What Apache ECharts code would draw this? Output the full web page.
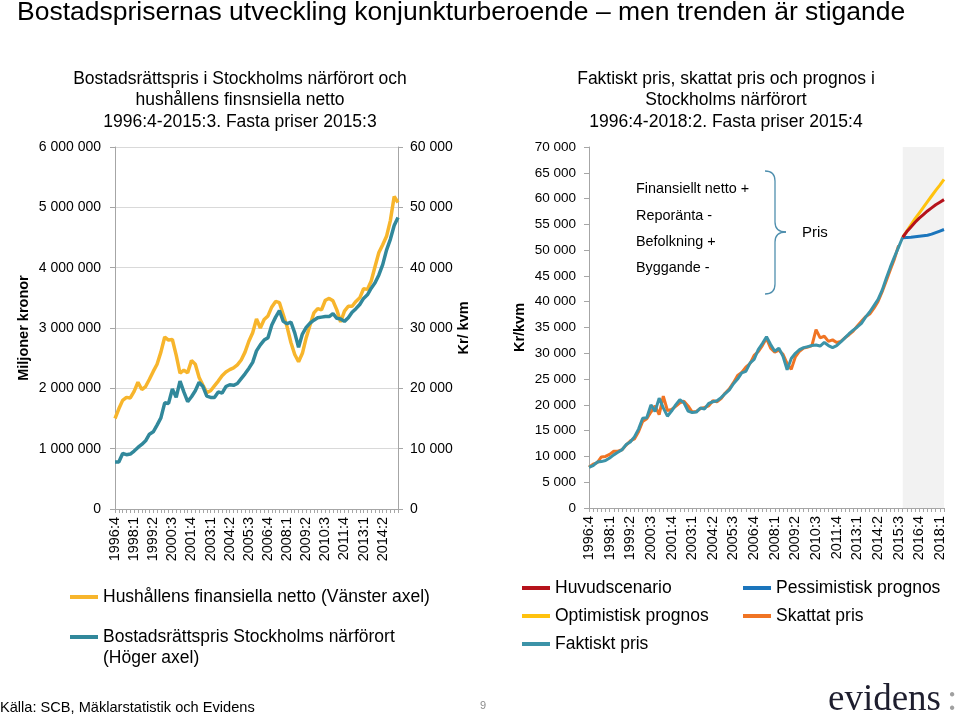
<!DOCTYPE html>
<html>
<head>
<meta charset="utf-8">
<script src="https://cdn.jsdelivr.net/npm/echarts@6.0.0/dist/echarts.min.js"></script>
<style>
html,body{margin:0;padding:0;background:#fff;}
#chart{width:960px;height:717px;}
</style>
</head>
<body>
<div id="chart"></div>
<script>
// ---------- categories ----------
function quarters(y0, q0, n) {
  const a = []; let y = y0, q = q0;
  for (let i = 0; i < n; i++) { a.push(y + ':' + q); q++; if (q > 4) { q = 1; y++; } }
  return a;
}
const leftCategories = quarters(1996, 4, 75);   // 1996:4 .. 2015:2
const rightCategories = quarters(1996, 4, 87);  // 1996:4 .. 2018:2

// ---------- left chart data ----------
// Hushållens finansiella netto (kronor, left axis)
const finansiellaNetto = [
  1500000,1660000,1800000,1850000,1840000,1950000,2100000,1980000,2030000,2150000,
  2280000,2400000,2600000,2850000,2800000,2810000,2550000,2250000,2300000,2260000,
  2460000,2400000,2180000,2050000,1930000,1960000,2040000,2120000,2210000,2270000,
  2310000,2340000,2390000,2470000,2600000,2780000,2920000,3150000,3000000,3140000,
  3200000,3350000,3440000,3420000,3220000,3020000,2760000,2560000,2440000,2580000,
  2840000,3050000,3250000,3320000,3300000,3460000,3490000,3450000,3300000,3100000,
  3280000,3360000,3360000,3440000,3500000,3650000,3640000,3780000,4020000,4250000,
  4380000,4520000,4780000,5180000,5080000
];
// Bostadsrättspris Stockholms närförort (kr/kvm, right axis)
const bostadsrattspris = [
  7800,7800,9200,9000,9100,9600,10200,10700,11300,12400,
  12800,13900,15100,17600,17500,19900,18500,21200,19400,17800,
  18600,19600,21000,20300,18700,18500,18500,19400,19200,20300,
  20600,20500,20800,21600,22400,23300,24300,26200,27200,28000,
  28400,30500,31800,32900,31100,30700,31000,29200,26800,29000,
  30100,30800,31300,31700,31800,31900,31900,32400,31600,31500,
  31100,31700,32600,33200,33900,34900,35500,36600,37500,38800,
  40500,42900,44700,47000,48300
];

// ---------- right chart data ----------
const faktisktPris = [
  7900,8200,8900,9000,9200,9700,10300,10800,11300,12300,
  12800,13800,15300,17400,17500,20000,18700,21300,19400,17800,
  18800,20000,21000,20400,18800,18500,18600,19400,19200,20300,
  20600,20800,21400,22200,22900,24100,25000,26200,26500,28100,
  28800,30700,31900,33200,31700,30400,31000,29400,26800,29000,
  30000,30700,31100,31300,31500,31600,31400,32100,31500,31100,
  31500,32200,33000,33800,34500,35100,35800,37000,38000,39200,
  40400,42200,44500,46700,48700,50600,52500
];
const skattatPris = [
  7900,8500,8800,9900,10000,10400,11000,11000,11300,12200,
  13000,13400,14800,16800,17300,18600,19800,18100,21700,18900,
  19100,19700,20400,20700,19800,18600,18700,19300,19500,19800,
  20800,20600,21200,22300,23100,24300,25700,26300,27300,28000,
  29600,30300,31500,32900,31000,30200,30600,29800,28000,26900,
  29300,30400,31000,31200,31500,34600,33000,33300,32300,32600,
  32100,32300,33000,33600,34300,35300,36200,37100,37600,38700,
  40000,41900,44000,46200,48300,50900
];
const prognosStart = '2015:4';
const huvudscenario = [52500,53600,54500,55400,56200,56900,57600,58200,58800,59300,59800];
const optimistisk   = [52500,53700,54900,56100,57200,58300,59400,60500,61600,62600,63700];
const pessimistisk  = [52400,52450,52500,52600,52700,52800,52900,53100,53400,53700,54000];

// ---------- helpers ----------
const FONT = '"Liberation Sans", Arial, sans-serif';
const SERIF = '"Liberation Serif", "DejaVu Serif", serif';
const fmt = v => String(v).replace(/\B(?=(\d{3})+(?!\d))/g, ' ');
const startIdx = rightCategories.indexOf(prognosStart);
const forecast = arr => arr.map((v, i) => [rightCategories[startIdx + i], v]);

const axisGray = '#A6A6A6';
const braceColor = '#4F8FAE';
const braceStyle = { stroke: braceColor, fill: null, lineWidth: 1.3 };
const legendText = { fontSize: 17.5, color: '#000', fontFamily: FONT };

const chart = echarts.init(document.getElementById('chart'));
const option = {
  backgroundColor: '#ffffff',
  animation: false,
  textStyle: { fontFamily: FONT },
  grid: [
    { left: 115, top: 147, width: 283, height: 362 },
    { left: 589, top: 147, width: 355, height: 361 }
  ],
  xAxis: [
    {
      gridIndex: 0, type: 'category', data: leftCategories, boundaryGap: false,
      axisLine: { lineStyle: { color: axisGray } },
      axisTick: { interval: 0, length: 4, lineStyle: { color: axisGray } },
      axisLabel: { interval: 4, rotate: 90, margin: 8, fontSize: 14.5, color: '#000', fontFamily: FONT },
      splitLine: { show: false }
    },
    {
      gridIndex: 1, type: 'category', data: rightCategories, boundaryGap: false,
      axisLine: { lineStyle: { color: axisGray } },
      axisTick: { interval: 0, length: 4, lineStyle: { color: axisGray } },
      axisLabel: { interval: 4, rotate: 90, margin: 8, fontSize: 14.5, color: '#000', fontFamily: FONT },
      splitLine: { show: false }
    }
  ],
  yAxis: [
    {
      gridIndex: 0, type: 'value', min: 0, max: 6000000, interval: 1000000, position: 'left',
      name: 'Miljoner kronor', nameLocation: 'middle', nameGap: 84, nameRotate: 90,
      nameTextStyle: { fontSize: 14.5, fontWeight: 'bold', color: '#000', fontFamily: FONT },
      axisLine: { show: true, lineStyle: { color: axisGray } },
      axisTick: { show: true, length: 5, lineStyle: { color: axisGray } },
      axisLabel: { formatter: fmt, fontSize: 14, color: '#000', margin: 14, fontFamily: FONT },
      splitLine: { show: true, lineStyle: { color: '#D9D9D9' } }
    },
    {
      gridIndex: 0, type: 'value', min: 0, max: 60000, interval: 10000, position: 'right',
      name: 'Kr/ kvm', nameLocation: 'middle', nameGap: 58, nameRotate: 90,
      nameTextStyle: { fontSize: 14.5, fontWeight: 'bold', color: '#000', fontFamily: FONT },
      axisLine: { show: true, lineStyle: { color: axisGray } },
      axisTick: { show: true, length: 5, lineStyle: { color: axisGray } },
      axisLabel: { formatter: fmt, fontSize: 14, color: '#000', margin: 12, fontFamily: FONT },
      splitLine: { show: false }
    },
    {
      gridIndex: 1, type: 'value', min: 0, max: 70000, interval: 5000, position: 'left',
      name: 'Kr/kvm', nameLocation: 'middle', nameGap: 62, nameRotate: 90,
      nameTextStyle: { fontSize: 14.5, fontWeight: 'bold', color: '#000', fontFamily: FONT },
      axisLine: { show: true, lineStyle: { color: axisGray } },
      axisTick: { show: true, length: 5, lineStyle: { color: axisGray } },
      axisLabel: { formatter: fmt, fontSize: 13.5, color: '#000', margin: 13, fontFamily: FONT },
      splitLine: { show: false }
    }
  ],
  legend: [
    {
      left: 70, top: 588, padding: 0, orient: 'vertical', selectedMode: false,
      icon: 'rect', itemWidth: 28, itemHeight: 4, textStyle: legendText,
      data: ['Hushållens finansiella netto (Vänster axel)']
    },
    {
      left: 70, top: 628, padding: 0, orient: 'vertical', selectedMode: false,
      icon: 'rect', itemWidth: 28, itemHeight: 4, textStyle: legendText,
      data: ['Bostadsrättspris Stockholms närförort']
    },
    {
      left: 522, top: 579, padding: 0, orient: 'vertical', selectedMode: false, itemGap: 10,
      icon: 'rect', itemWidth: 28, itemHeight: 4, textStyle: legendText,
      data: ['Huvudscenario', 'Optimistisk prognos', 'Faktiskt pris']
    },
    {
      left: 743, top: 579, padding: 0, orient: 'vertical', selectedMode: false, itemGap: 10,
      icon: 'rect', itemWidth: 28, itemHeight: 4, textStyle: legendText,
      data: ['Pessimistisk prognos', 'Skattat pris']
    }
  ],
  series: [
    {
      name: 'Hushållens finansiella netto (Vänster axel)', type: 'line',
      xAxisIndex: 0, yAxisIndex: 0, data: finansiellaNetto,
      showSymbol: false, symbol: 'none', color: '#F7B52C', lineStyle: { width: 3.5, color: '#F7B52C' }
    },
    {
      name: 'Bostadsrättspris Stockholms närförort', type: 'line',
      xAxisIndex: 0, yAxisIndex: 1, data: bostadsrattspris,
      showSymbol: false, symbol: 'none', color: '#31889B', lineStyle: { width: 3.5, color: '#31889B' }
    },
    {
      name: 'Skattat pris', type: 'line',
      xAxisIndex: 1, yAxisIndex: 2, data: skattatPris,
      showSymbol: false, symbol: 'none', color: '#F07424', lineStyle: { width: 3, color: '#F07424' },
      markArea: {
        silent: true,
        itemStyle: { color: '#F2F2F2' },
        data: [[{ xAxis: prognosStart }, { xAxis: rightCategories[rightCategories.length - 1] }]]
      }
    },
    {
      name: 'Faktiskt pris', type: 'line',
      xAxisIndex: 1, yAxisIndex: 2, data: faktisktPris,
      showSymbol: false, symbol: 'none', color: '#3C93A8', lineStyle: { width: 3, color: '#3C93A8' }
    },
    {
      name: 'Pessimistisk prognos', type: 'line',
      xAxisIndex: 1, yAxisIndex: 2, data: forecast(pessimistisk),
      showSymbol: false, symbol: 'none', color: '#1B75BC', lineStyle: { width: 3, color: '#1B75BC' }
    },
    {
      name: 'Optimistisk prognos', type: 'line',
      xAxisIndex: 1, yAxisIndex: 2, data: forecast(optimistisk),
      showSymbol: false, symbol: 'none', color: '#FFC20E', lineStyle: { width: 3, color: '#FFC20E' }
    },
    {
      name: 'Huvudscenario', type: 'line',
      xAxisIndex: 1, yAxisIndex: 2, data: forecast(huvudscenario),
      showSymbol: false, symbol: 'none', color: '#B5121B', lineStyle: { width: 3, color: '#B5121B' }
    }
  ],
  graphic: {
    elements: [
      { type: 'text', x: 17, y: 13, silent: true,
        style: { text: 'Bostadsprisernas utveckling konjunkturberoende – men trenden är stigande',
          font: '26.5px ' + FONT, fill: '#000', align: 'left', verticalAlign: 'middle' } },
      { type: 'text', x: 240, y: 68, silent: true,
        style: { text: 'Bostadsrättspris i Stockholms närförort och\nhushållens finsnsiella netto\n1996:4-2015:3. Fasta priser 2015:3',
          font: '17.5px ' + FONT, lineHeight: 21.5, fill: '#000', align: 'center', verticalAlign: 'top' } },
      { type: 'text', x: 726, y: 68, silent: true,
        style: { text: 'Faktiskt pris, skattat pris och prognos i\nStockholms närförort\n1996:4-2018:2. Fasta priser 2015:4',
          font: '17.5px ' + FONT, lineHeight: 21.5, fill: '#000', align: 'center', verticalAlign: 'top' } },
      { type: 'text', x: 636, y: 189, silent: true,
        style: { text: 'Finansiellt netto +', font: '14.4px ' + FONT, fill: '#000', align: 'left', verticalAlign: 'middle' } },
      { type: 'text', x: 636, y: 216, silent: true,
        style: { text: 'Reporänta -', font: '14.4px ' + FONT, fill: '#000', align: 'left', verticalAlign: 'middle' } },
      { type: 'text', x: 636, y: 242, silent: true,
        style: { text: 'Befolkning +', font: '14.4px ' + FONT, fill: '#000', align: 'left', verticalAlign: 'middle' } },
      { type: 'text', x: 636, y: 268, silent: true,
        style: { text: 'Byggande -', font: '14.4px ' + FONT, fill: '#000', align: 'left', verticalAlign: 'middle' } },
      { type: 'bezierCurve', silent: true, shape: { x1: 765, y1: 171, cpx1: 775, cpy1: 171, x2: 775, y2: 181 }, style: braceStyle },
      { type: 'line', silent: true, shape: { x1: 775, y1: 181, x2: 775, y2: 222 }, style: braceStyle },
      { type: 'bezierCurve', silent: true, shape: { x1: 775, y1: 222, cpx1: 775, cpy1: 232, x2: 786, y2: 232 }, style: braceStyle },
      { type: 'bezierCurve', silent: true, shape: { x1: 786, y1: 232, cpx1: 775, cpy1: 232, x2: 775, y2: 242 }, style: braceStyle },
      { type: 'line', silent: true, shape: { x1: 775, y1: 242, x2: 775, y2: 284 }, style: braceStyle },
      { type: 'bezierCurve', silent: true, shape: { x1: 775, y1: 284, cpx1: 775, cpy1: 294, x2: 765, y2: 294 }, style: braceStyle },
      { type: 'text', x: 802, y: 233, silent: true,
        style: { text: 'Pris', font: '15px ' + FONT, fill: '#000', align: 'left', verticalAlign: 'middle' } },
      { type: 'text', x: 103, y: 658, silent: true,
        style: { text: '(Höger axel)', font: '17.5px ' + FONT, fill: '#000', align: 'left', verticalAlign: 'middle' } },
      { type: 'text', x: 0, y: 708, silent: true,
        style: { text: 'Källa: SCB, Mäklarstatistik och Evidens', font: '14.6px ' + FONT, fill: '#000', align: 'left', verticalAlign: 'middle' } },
      { type: 'text', x: 483, y: 706, silent: true,
        style: { text: '9', font: '11px ' + FONT, fill: '#8C8C8C', align: 'center', verticalAlign: 'middle' } },
      { type: 'text', x: 828, y: 700, silent: true,
        style: { text: 'evidens', font: '37px ' + SERIF, fill: '#1E1E2E', align: 'left', verticalAlign: 'middle' } },
      { type: 'text', x: 947, y: 700, silent: true,
        style: { text: ':', font: '37px ' + SERIF, fill: '#A0A0A0', align: 'left', verticalAlign: 'middle' } }
    ]
  }
};
chart.setOption(option);
</script>
</body>
</html>
